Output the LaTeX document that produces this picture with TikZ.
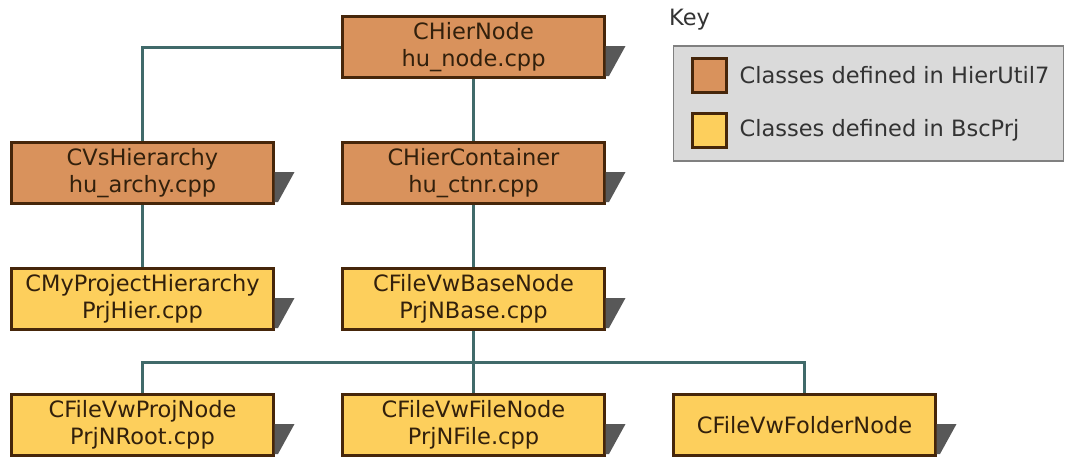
\documentclass[tikz,border=0pt]{standalone}
\usepackage{fontspec}
\setmainfont{DejaVu Sans}
\usetikzlibrary{positioning}
\usetikzlibrary{backgrounds}
\definecolor{hierbraun}{RGB}{217,146,92}
\definecolor{prjgelb}{RGB}{253,207,92}
\definecolor{randbraun}{RGB}{70,38,10}
\definecolor{textbraun}{RGB}{50,32,12}
\definecolor{linienfarbe}{RGB}{64,106,106}
\definecolor{schattenfarbe}{RGB}{88,88,88}
\definecolor{keygrau}{RGB}{218,218,218}
\tikzset{
	klasse/.style={
		rectangle,
		draw=randbraun, line width=3pt,
		text=textbraun,
		minimum width=262pt,
		minimum height=61pt,
		inner sep=2pt,
		align=center,
		font=\fontsize{22.5}{27}\selectfont},
	hier/.style={klasse, fill=hierbraun},
	prj/.style={klasse, fill=prjgelb},
	swatch/.style={rectangle, draw=randbraun, line width=3pt,
		minimum width=34pt, minimum height=34pt, inner sep=0pt},
	keytext/.style={anchor=west, inner sep=0pt, text=black!80,
		font=\fontsize{22.5}{26}\selectfont},
	linie/.style={draw=linienfarbe, line width=3pt},
	schatten/.style={fill=schattenfarbe},
}

\begin{document}
\begin{tikzpicture}
	[x=1pt, y=1pt, node distance=62pt and 66pt]
	\useasboundingbox (0,0) rectangle (1065,-458);
	% classes
	\node[hier] (hiernode) at (473.5,-47) {CHierNode\\hu\_node.cpp};
	\node[hier, below=of hiernode] (container) {CHierContainer\\hu\_ctnr.cpp};
	\node[hier, left=of container] (vshier) {CVsHierarchy\\hu\_archy.cpp};
	\node[prj, below=of container] (basenode) {CFileVwBaseNode\\PrjNBase.cpp};
	\node[prj, below=of vshier] (myproject) {CMyProjectHierarchy\\PrjHier.cpp};
	\node[prj, below=of basenode] (filenode) {CFileVwFileNode\\PrjNFile.cpp};
	\node[prj, left=of filenode] (projnode) {CFileVwProjNode\\PrjNRoot.cpp};
	\node[prj, right=of filenode] (foldernode) {CFileVwFolderNode};
	% shadows
	\foreach \n in {hiernode,container,vshier,basenode,myproject,filenode,projnode,foldernode}
		\fill[schatten] ([xshift=-0.5pt,yshift=1pt]\n.east) -- ++(20,0)
			-- ([xshift=3pt,yshift=3pt]\n.south east)
			-- ([xshift=-0.5pt,yshift=3pt]\n.south east) -- cycle;
	% connectors
	\begin{scope}[on background layer]
		\draw[linie] (hiernode.west) -| (vshier.north);
		\draw[linie] (hiernode) -- (container);
		\draw[linie] (vshier) -- (myproject);
		\draw[linie] (container) -- (basenode);
		\draw[linie] (basenode) -- (filenode);
		\draw[linie] (projnode.north) -- ++(0,31) -| (foldernode.north);
	\end{scope}
	% key
	\node[keytext] (keytitel) at (669,-20) {Key};
	\node[rectangle, draw=black!50, line width=1.5pt, fill=keygrau,
		minimum width=390pt, minimum height=115pt, anchor=north west]
		(keybox) at (672.5,-45) {};
	\node[swatch, fill=hierbraun] (keyhier) at (709,-75) {};
	\node[swatch, fill=prjgelb] (keyprj) at (709,-130) {};
	\node[keytext, right=12pt of keyhier] (keyhiertext) {Classes defined in HierUtil7};
	\node[keytext, right=12pt of keyprj] (keyprjtext) {Classes defined in BscPrj};
\end{tikzpicture}
\end{document}
